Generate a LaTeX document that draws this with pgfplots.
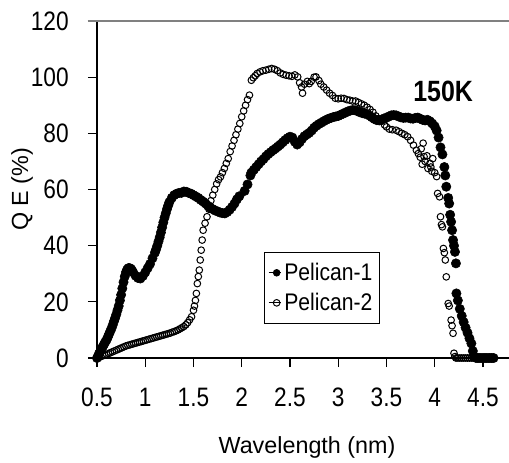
\documentclass[border=0pt]{standalone}
\usepackage{fontspec}
\setmainfont{Liberation Sans}
\newfontfamily\narrowfont{Liberation Sans}[FakeStretch=0.85]
\newfontfamily\legfont{Liberation Sans}[FakeStretch=0.88]
\usepackage{pgfplots}
\pgfplotsset{compat=1.18}
\pgfplotstableread{
x y
0.500 0
0.510 0.5
0.520 1.5
0.535 2.5
0.550 3.5
0.5625 4.2
0.575 5
0.5875 5.8
0.600 6.5
0.6125 7.5
0.625 8.5
0.6375 9.5
0.650 10.5
0.6625 11.7
0.675 13
0.6875 14.2
0.700 15.5
0.7125 17
0.725 18.5
0.7375 20.5
0.750 22.5
0.7625 24.8
0.775 27
0.7875 29
0.800 30.5
0.8125 31.5
0.825 32
0.8375 32
0.850 31.8
0.8625 31.2
0.875 30.5
0.900 29.3
0.925 28.5
0.950 28.3
0.975 29.2
1.000 30.5
1.025 32
1.050 33.5
1.075 35.5
1.100 37.5
1.1125 38.7
1.125 40
1.1375 41.5
1.150 43
1.1625 44.7
1.175 46.5
1.1875 48.3
1.200 50
1.2125 51.5
1.225 53
1.2375 54.3
1.250 55.5
1.275 57
1.300 58
1.325 58.5
1.350 58.8
1.375 58.8
1.400 59.3
1.425 59.2
1.450 58.8
1.475 58.5
1.500 58
1.525 57.5
1.550 57
1.575 56.3
1.600 55.7
1.625 55
1.650 54.2
1.675 53.5
1.700 53
1.725 52.5
1.750 52.2
1.775 51.8
1.800 51.6
1.825 51.5
1.850 52
1.875 52.8
1.900 53.8
1.925 55
1.950 56.5
1.975 57.6
2.030 59.5
2.060 61.8
2.090 65
2.100 66
2.125 67
2.150 68
2.175 69
2.200 70
2.225 70.8
2.250 71.8
2.275 72.6
2.300 73.3
2.325 74
2.350 74.6
2.375 75.3
2.400 76
2.425 76.8
2.450 77.6
2.475 78.3
2.500 78.8
2.525 78.5
2.550 77
2.575 76
2.600 76.8
2.625 78
2.650 79
2.675 79.6
2.700 80.2
2.725 81
2.750 82
2.775 82.7
2.800 83.3
2.825 83.8
2.850 84.3
2.875 84.8
2.900 85.2
2.925 85.5
2.950 85.8
2.975 86
3.000 86.2
3.025 86.6
3.050 87
3.075 87.4
3.100 87.8
3.125 88.1
3.150 88.3
3.175 88.2
3.200 87.9
3.225 87.5
3.250 87.2
3.275 87
3.300 86.8
3.325 86.3
3.350 85.7
3.375 85.1
3.400 84.7
3.425 84.6
3.450 84.9
3.475 85.3
3.500 85.6
3.525 86
3.550 86.4
3.575 86.5
3.600 86.4
3.625 86
3.650 85.7
3.675 85.5
3.700 85.6
3.725 85.6
3.750 85.3
3.775 85.2
3.800 85.5
3.825 85.6
3.850 85.2
3.875 84.8
3.900 84.6
3.925 84.8
3.950 84.3
3.975 83.5
4.000 82.5
4.020 81
4.040 78.5
4.060 75
4.080 72.5
4.100 68
4.110 65
4.120 61
4.140 57
4.150 55
4.160 51
4.170 48.5
4.180 45.5
4.190 42
4.200 40
4.210 37.8
4.220 33.7
4.225 23
4.240 20.5
4.260 17.5
4.280 15
4.300 12.8
4.320 10.8
4.340 9
4.360 7
4.380 5.2
4.395 2.5
4.410 0.5
4.430 0
4.450 0
4.470 0
4.490 0
4.510 0
4.530 0
4.550 0
4.570 0
4.590 0
4.610 0
}\pelicanA
\pgfplotstableread{
x y
0.50 0
0.52 0.3
0.54 0.5
0.56 0.8
0.58 1.0
0.60 1.3
0.62 1.6
0.64 1.9
0.66 2.2
0.68 2.5
0.70 2.8
0.72 3.1
0.74 3.4
0.76 3.7
0.78 4.0
0.80 4.3
0.82 4.5
0.84 4.7
0.86 4.9
0.88 5.1
0.90 5.3
0.92 5.5
0.94 5.7
0.96 5.9
0.98 6.1
1.00 6.3
1.02 6.5
1.04 6.7
1.06 6.9
1.08 7.1
1.10 7.3
1.12 7.5
1.14 7.7
1.16 7.9
1.18 8.1
1.20 8.3
1.22 8.5
1.24 8.7
1.26 8.9
1.28 9.2
1.30 9.4
1.32 9.7
1.34 10.0
1.36 10.4
1.38 10.8
1.40 11.2
1.42 11.8
1.44 12.6
1.46 13.6
1.48 14.7
1.50 17
1.51 18.5
1.52 20.5
1.53 23
1.54 26.5
1.55 29
1.56 31.3
1.57 34.9
1.58 38.4
1.59 42
1.60 45.5
1.62 48
1.64 50.3
1.66 53
1.68 56
1.70 58
1.72 60
1.74 62
1.76 63.5
1.78 64.5
1.80 66
1.82 67.5
1.84 69.3
1.86 71
1.88 73.5
1.90 75.5
1.92 77.5
1.94 79.5
1.96 81.5
1.98 83.5
2.00 85.9
2.02 88
2.04 90
2.06 92
2.08 93.6
2.10 98.9
2.12 99.8
2.14 100.5
2.16 101.3
2.19 101.9
2.22 102.3
2.25 102.5
2.28 102.8
2.31 103.1
2.34 102.8
2.37 102.3
2.40 101.5
2.43 101
2.46 100.7
2.49 100.5
2.52 100.3
2.55 100.8
2.58 100.1
2.60 98
2.62 96.5
2.63 94.3
2.65 97.5
2.68 98.5
2.70 97.7
2.72 98.5
2.75 100
2.77 100.1
2.80 98.8
2.82 97.5
2.85 96.5
2.88 95.4
2.91 94.3
2.94 93.5
2.97 92.5
3.00 92.3
3.03 92.5
3.06 92.4
3.09 92
3.12 91.8
3.15 91.5
3.18 91.5
3.21 91
3.24 90.5
3.27 90
3.30 89.3
3.33 88.5
3.36 87.5
3.39 86.2
3.42 85.2
3.45 84.3
3.48 83
3.50 82.3
3.53 81.5
3.56 81.3
3.60 81.1
3.63 80.6
3.66 80
3.69 79.5
3.72 78.8
3.75 77.5
3.78 75.8
3.81 74
3.83 72.8
3.85 71.5
3.86 74.5
3.87 69
3.88 76.5
3.89 71.7
3.90 70
3.92 72
3.93 67.5
3.95 69.3
3.96 68
3.97 66.5
3.98 71
4.00 66
4.02 64.6
4.03 58.6
4.05 57.4
4.06 50.3
4.07 47.5
4.08 46.7
4.09 39
4.10 37.5
4.11 34.9
4.12 28.9
4.14 19.4
4.15 18.5
4.17 13.5
4.18 11.5
4.19 8.8
4.20 1.7
4.21 0.5
4.22 0
4.24 0
4.26 0
4.28 0
4.30 0
4.32 0
4.34 0
4.36 0
4.38 0
4.40 0
4.42 0
}\pelicanB
\begin{document}
\begin{tikzpicture}
\begin{axis}[
  scale only axis,
  width=309pt, height=252.75pt,
  xmin=0.5, xmax=4.77, ymin=0, ymax=120,
  axis x line*=bottom, axis y line*=left,
  xtick={0.5,1,1.5,2,2.5,3,3.5,4,4.5},
  ytick={0,20,40,60,80,100,120},
  tick align=outside, major tick length=6.75pt,
  tick style={black, line width=0.9pt},
  axis line style={black, line width=0.9pt},
  /pgf/number format/assume math mode=true,
  tick label style={font=\narrowfont\fontsize{20}{22}\selectfont},
  xticklabel style={anchor=center, yshift=-23pt},
  yticklabel style={anchor=east, xshift=-11pt},
  xlabel={Wavelength (nm)},
  ylabel={Q E (\%)},
  label style={font=\fontsize{17.5}{20}\selectfont},
  xlabel style={at={([yshift=-67pt,xshift=3pt]axis description cs:0.5,0)}, anchor=center},
  ylabel style={at={([xshift=-56.25pt]axis description cs:0,0.5)}, anchor=center},
  clip=false,
  legend style={at={(0.405,0.3145)}, anchor=north west, draw=black, line width=0.6pt,
    fill=white, font=\legfont\fontsize{18}{20}\selectfont, inner xsep=3pt, inner ysep=6pt,
    row sep=4pt},
  legend cell align=left,
  legend image code/.code={\path (0pt,0pt) -- (9.5pt,0pt); \draw[#1, mark size=2.5pt] plot coordinates {(6pt,0pt)};},
]
\addplot[only marks, mark=*, mark size=3.5pt, black, mark options={fill=black, draw=black}] table {\pelicanA};
\addlegendentry{Pelican-1}
\addplot[only marks, mark=o, mark size=2.5pt, black, mark options={draw=black, line width=0.75pt}] table {\pelicanB};
\addlegendentry{Pelican-2}
\draw[gray, line width=0.9pt] ([xshift=-6.75pt]rel axis cs:0,1) -- (rel axis cs:1,1);
\node[font=\narrowfont\bfseries\fontsize{22}{24}\selectfont, anchor=center] at (axis cs:4.087,94.8) {150K};
\end{axis}
\pgfresetboundingbox
\path[use as bounding box] ([shift={(-72.75pt,-78pt)}]current axis.south west) rectangle ([shift={(0pt,15.75pt)}]current axis.north east);
\end{tikzpicture}
\end{document}
